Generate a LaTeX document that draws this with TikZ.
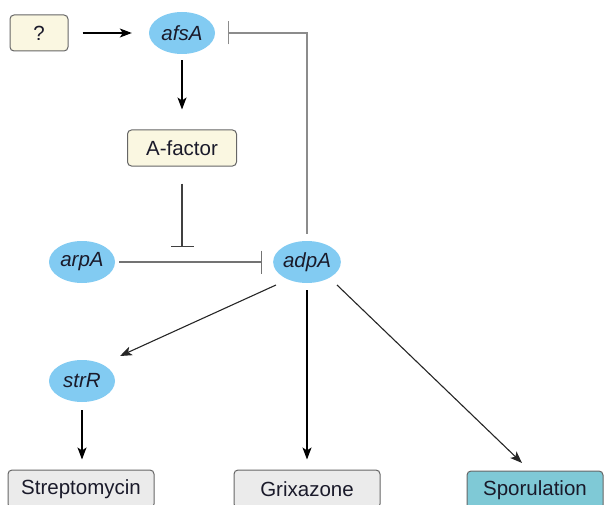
\documentclass[tikz,border=0pt]{standalone}
\usepackage{fontspec}
\setmainfont{Liberation Sans}
\usetikzlibrary{arrows.meta,shapes.geometric}
\definecolor{gene}{HTML}{82CBF2}
\definecolor{ybox}{HTML}{FAF7E1}
\definecolor{gbox}{HTML}{EBEBEB}
\definecolor{tbox}{HTML}{7FC9D6}
\definecolor{txt}{HTML}{1A1A2A}
\tikzset{
  genenode/.style={ellipse, fill=gene, minimum width=66pt, minimum height=42pt, inner sep=0pt, font=\fontsize{20.5}{24}\selectfont\itshape, text=txt},
  boxnode/.style={draw=black!60, line width=1pt, rounded corners=4pt, minimum height=36pt, inner sep=0pt, font=\fontsize{20.5}{24}\selectfont, text=txt},
  act/.style={line width=1.1pt, -{Stealth[length=12pt,width=9pt,inset=3pt]}},
  inh/.style={line width=1.1pt, -{Bar[width=23pt,line width=1.1pt]}},
}
\begin{document}
\begin{tikzpicture}[x=1pt,y=-1pt]
\useasboundingbox (0,0) rectangle (604,505);
\begin{scope}
\clip (0,0) rectangle (604,505);
\node[boxnode, fill=ybox, minimum width=58pt] (q) at (39,33) {?};
\node[genenode] (afsA) at (182,33) {afsA};
\node[boxnode, fill=ybox, minimum width=109pt] (af) at (182,148) {A-factor};
\node[genenode] (arpA) at (82,262) {arpA};
\node[genenode] (adpA) at (307,262) {adpA};
\node[genenode] (strR) at (82,381) {strR};
\node[boxnode, fill=gbox, minimum width=146pt, minimum height=38pt] (strep) at (81,489) {Streptomycin};
\node[boxnode, fill=gbox, minimum width=146pt, minimum height=38pt] (grix) at (307,489) {Grixazone};
\node[boxnode, fill=tbox, minimum width=136pt, minimum height=38pt] (spor) at (535,490) {Sporulation};
\coordinate (mid) at (182,247);

\draw[act, black, shorten <=14pt, shorten >=17pt] (q.east) -- (afsA.west);
\draw[act, black, shorten <=6pt, shorten >=20pt] (afsA.south) -- (af.north);
\draw[inh, black!75, shorten <=17pt] (af.south) -- (mid);
\draw[inh, black!55, shorten <=4pt, shorten >=11pt] (arpA.east) -- (adpA.west);
\draw[inh, black!45, line width=1.4pt, shorten <=7pt, shorten >=13pt] (adpA.north) |- (afsA.east);
\draw[act, black!85] ([xshift=-31pt,yshift=-23pt]adpA.center) -- ([xshift=38pt,yshift=25pt]strR.center);
\draw[act, black, shorten <=7pt, shorten >=10pt] (adpA.south) -- (grix.north);
\draw[act, black!85] ([xshift=30pt,yshift=-23pt]adpA.center) -- ([xshift=-13pt,yshift=27pt]spor.center);
\draw[act, black, shorten <=8pt, shorten >=10pt] (strR.south) -- (strR.south |- strep.north);
\end{scope}
\end{tikzpicture}
\end{document}
